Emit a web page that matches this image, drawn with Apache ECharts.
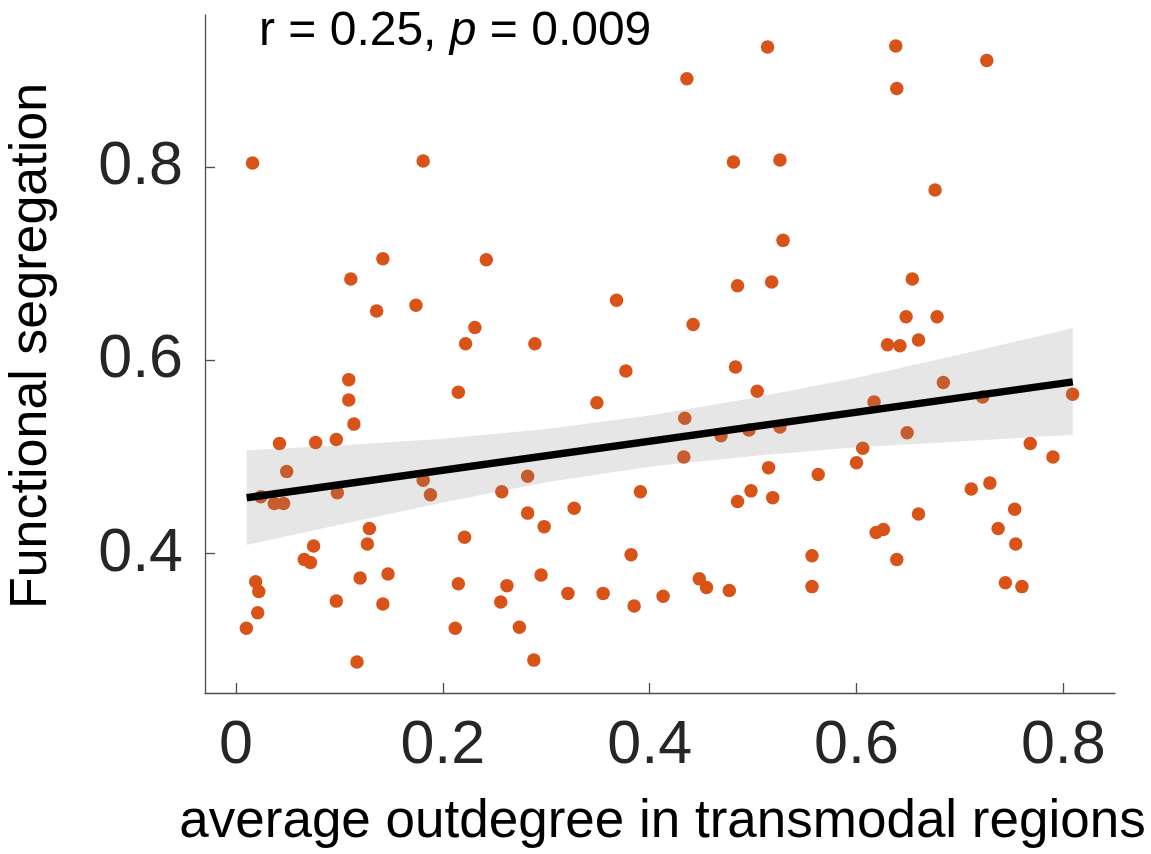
<!DOCTYPE html>
<html>
<head>
<meta charset="utf-8">
<script src="https://cdn.jsdelivr.net/npm/echarts@6/dist/echarts.min.js"></script>
<style>
html,body{margin:0;padding:0;background:#fff;}
#chart{width:1151px;height:854px;}
</style>
</head>
<body>
<div id="chart"></div>
<script>
// ---- data ----
const xValues = [
  0.016,0.181,0.142,0.242,0.111,0.136,0.174,0.368,0.231,0.222,0.289,
  0.514,0.436,0.638,0.726,0.639,0.481,0.526,0.676,0.529,0.485,0.518,0.654,0.442,0.648,0.678,0.660,0.630,0.642,
  0.109,0.215,0.377,0.109,0.349,0.114,0.042,0.077,0.097,0.049,0.024,0.037,0.046,0.098,0.181,0.188,0.282,0.257,
  0.282,0.298,0.327,0.391,0.129,0.127,0.075,0.066,0.072,0.221,0.382,0.019,0.022,0.021,0.010,0.120,0.147,0.097,
  0.142,0.215,0.262,0.295,0.256,0.321,0.355,0.385,0.413,0.212,0.274,0.117,0.288,
  0.483,0.504,0.434,0.433,0.469,0.496,0.526,0.515,0.563,0.498,0.485,0.519,0.617,0.684,0.722,0.809,0.649,0.606,
  0.600,0.768,0.790,0.711,0.729,0.660,0.753,0.619,0.626,0.737,0.754,0.557,0.639,0.448,0.455,0.477,0.557,0.744,0.760
];
const yValues = [
  0.804,0.806,0.705,0.704,0.684,0.651,0.657,0.662,0.634,0.617,0.617,
  0.924,0.891,0.925,0.910,0.881,0.805,0.807,0.776,0.724,0.677,0.681,0.684,0.637,0.645,0.645,0.621,0.616,0.615,
  0.580,0.567,0.589,0.559,0.556,0.534,0.514,0.515,0.518,0.485,0.459,0.452,0.452,0.463,0.476,0.461,0.480,0.464,
  0.442,0.428,0.447,0.464,0.426,0.410,0.408,0.394,0.391,0.417,0.399,0.371,0.361,0.339,0.323,0.375,0.379,0.351,
  0.348,0.369,0.367,0.378,0.350,0.359,0.359,0.346,0.356,0.323,0.324,0.288,0.290,
  0.593,0.568,0.540,0.500,0.522,0.528,0.531,0.489,0.482,0.465,0.454,0.458,0.557,0.577,0.562,0.565,0.525,0.509,
  0.494,0.514,0.500,0.467,0.473,0.441,0.446,0.422,0.425,0.426,0.410,0.398,0.394,0.374,0.365,0.362,0.366,0.370,0.366
];
// regression line end points
const fitX = [0.0103, 0.8092];
const fitY = [0.4579, 0.5777];
// confidence band edges
const bandX     = [0.0103, 0.1,   0.2,   0.3,   0.4,   0.5,   0.6,   0.7,   0.8092];
const bandUpper = [0.507,  0.512, 0.519, 0.529, 0.543, 0.561, 0.582, 0.606, 0.633];
const bandLower = [0.409,  0.430, 0.453, 0.474, 0.490, 0.501, 0.510, 0.516, 0.523];
// axis ticks
const xTicks = [0, 0.2, 0.4, 0.6, 0.8];
const yTicks = [0.4, 0.6, 0.8];

const FONT = '"Liberation Sans", Arial, Helvetica, sans-serif';
const AXIS_COLOR = '#4d4d4d';
const LABEL_COLOR = '#262626';

const points = xValues.map((x, i) => [x, yValues[i]]);
const fitLine = fitX.map((x, i) => [x, fitY[i]]);

const chart = echarts.init(document.getElementById('chart'), null, {renderer: 'canvas'});
const option = {
  animation: false,
  backgroundColor: '#ffffff',
  grid: {left: 205, right: 36, top: 15, bottom: 160.5, containLabel: false},
  xAxis: {
    type: 'value', min: -0.03, max: 0.85,
    name: 'average outdegree in transmodal regions',
    nameLocation: 'middle', nameGap: 103,
    nameTextStyle: {fontSize: 53, color: '#000', fontFamily: FONT, padding: [0, 0, 0, 5]},
    axisLine: {show: true, onZero: false, lineStyle: {color: AXIS_COLOR, width: 1.3}},
    axisTick: {show: true, inside: true, length: 10, customValues: xTicks, lineStyle: {color: AXIS_COLOR, width: 1.3}},
    axisLabel: {customValues: xTicks, margin: 23, fontSize: 61, color: LABEL_COLOR, fontFamily: FONT},
    splitLine: {show: false}
  },
  yAxis: {
    type: 'value', min: 0.256, max: 0.957,
    axisLine: {show: true, onZero: false, lineStyle: {color: AXIS_COLOR, width: 1.3}},
    axisTick: {show: true, inside: true, length: 10, customValues: yTicks, lineStyle: {color: AXIS_COLOR, width: 1.3}},
    axisLabel: {customValues: yTicks, margin: 22, fontSize: 61, color: LABEL_COLOR, fontFamily: FONT},
    splitLine: {show: false}
  },
  series: [
    {
      type: 'scatter', z: 2,
      data: points, symbol: 'circle', symbolSize: 13.5,
      itemStyle: {color: '#D95319', opacity: 1},
      emphasis: {disabled: true}
    },
    {
      type: 'custom', z: 3,
      data: [[bandX[0], bandUpper[0]]],
      renderItem: function (params, api) {
        const pts = [];
        for (let i = 0; i < bandX.length; i++) pts.push(api.coord([bandX[i], bandUpper[i]]));
        for (let i = bandX.length - 1; i >= 0; i--) pts.push(api.coord([bandX[i], bandLower[i]]));
        return {type: 'polygon', shape: {points: pts, smooth: 0}, style: {fill: 'rgba(128,128,128,0.2)', stroke: null}};
      },
      silent: true
    },
    {
      type: 'line', z: 4,
      data: fitLine, symbol: 'none',
      lineStyle: {color: '#000', width: 7.5, cap: 'butt'},
      silent: true
    }
  ],
  graphic: [
    {
      type: 'text', x: 32, y: 346, rotation: Math.PI / 2,
      style: {text: 'Functional segregation', fontSize: 52, fontFamily: FONT, fill: '#000',
              align: 'center', verticalAlign: 'middle', textAlign: 'center', textVerticalAlign: 'middle'}
    },
    {
      type: 'text', x: 259, y: 8,
      style: {
        text: '{a|r = 0.25, }{b|p}{a| = 0.009}',
        fontSize: 48, fontFamily: FONT, fill: '#000', verticalAlign: 'top', textVerticalAlign: 'top',
        rich: {
          a: {fontSize: 48, fontFamily: FONT, fill: '#000', color: '#000'},
          b: {fontSize: 48, fontFamily: FONT, fontStyle: 'italic', fill: '#000', color: '#000'}
        }
      }
    }
  ]
};
chart.setOption(option);
</script>
</body>
</html>
